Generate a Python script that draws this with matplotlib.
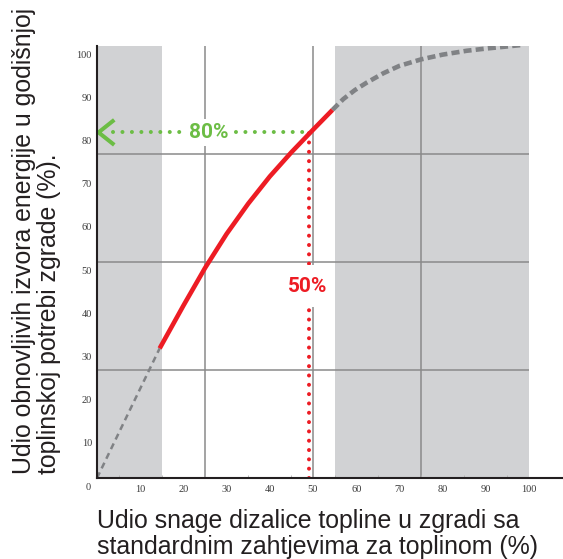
import matplotlib
matplotlib.use("Agg")
import matplotlib.pyplot as plt
from matplotlib.patches import Rectangle
from matplotlib.transforms import ScaledTranslation

# ---------------- data ----------------
x_ticks = [10, 20, 30, 40, 50, 60, 70, 80, 90, 100]
y_ticks = [10, 20, 30, 40, 50, 60, 70, 80, 90, 100]
grid_pos = [25, 50, 75]
shade_regions = [(0, 15), (55, 100)]

low_x = [0, 14.5]
low_y = [0, 30]

red_x = [14.5, 20, 25, 30, 35, 40, 45, 50, 54.5]
red_y = [30, 39.9, 48.6, 56.5, 63.5, 69.8, 75.4, 80.6, 85.2]

up_x = [54.5, 57, 59.7, 62.4, 66.3, 70, 75, 80, 85.6, 90, 98]
up_y = [85.2, 87.7, 89.8, 91.5, 93.7, 95.4, 96.9, 98.0, 98.9, 99.4, 100.2]

marker_x = 49.1
marker_y = 80
label_green = "80%"
label_red = "50%"
xlabel = "Udio snage dizalice topline u zgradi sa\nstandardnim zahtjevima za toplinom (%)"
ylabel = "Udio obnovljivih izvora energije u godišnjoj\ntoplinskoj potrebi zgrade (%)."

# ---------------- style ----------------
plt.rcParams["lines.scale_dashes"] = False
GRAY_FILL = "#d1d2d4"
GRID = "#8a8a8a"
DASH_GRAY = "#808285"
RED = "#ed1c24"
GREEN = "#6cbd45"
DARK = "#231f20"

W, H = 563, 559
fig = plt.figure(figsize=(W / 100, H / 100), dpi=100)
ax = fig.add_axes([97 / W, 81 / H, 465 / W, 432 / H])
ax.set_xlim(0, 107.64)
ax.set_ylim(0, 100)

for s in ("top", "right"):
    ax.spines[s].set_visible(False)
for s in ("left", "bottom"):
    ax.spines[s].set_linewidth(1.5)
    ax.spines[s].set_color(DARK)
    ax.spines[s].set_zorder(6)

for a, b in shade_regions:
    ax.axvspan(a, b, ymin=0, ymax=1, color=GRAY_FILL, lw=0, zorder=0)

ax.vlines(grid_pos, 0, 100, color=GRID, lw=1.1, zorder=1)
ax.hlines(grid_pos, 0, 100, color=GRID, lw=1.1, zorder=1)

# gray dashed extensions
l1, = ax.plot(low_x, low_y, color=DASH_GRAY, lw=1.8, zorder=3)
l1.set_dashes((4.5, 3.2))
l1.set_dash_capstyle("butt")
l2, = ax.plot(up_x, up_y, color=DASH_GRAY, lw=3.3, zorder=3)
l2.set_dashes((5.8, 3.0))
l2.set_dash_capstyle("butt")

# red solid curve
ax.plot(red_x, red_y, color=RED, lw=3.3, zorder=4, solid_capstyle="butt",
        solid_joinstyle="round")

# red dotted vertical
rv, = ax.plot([marker_x, marker_x], [0, marker_y], color=RED, lw=2.9, zorder=4)
rv.set_dashes((0.01, 6.7))
rv.set_dash_capstyle("round")

# green dotted horizontal
gh, = ax.plot([3.6, marker_x], [marker_y, marker_y], color=GREEN, lw=2.9, zorder=5)
gh.set_dashes((0.01, 6.8))
gh.set_dash_capstyle("round")
# chevron arrow head
ax.plot([4.0, 0.35, 4.0], [82.9, marker_y, 77.1], color=GREEN, lw=2.9, zorder=5,
        solid_joinstyle="miter", solid_capstyle="butt")

lab_font = ["Liberation Sans Narrow", "Roboto", "DejaVu Sans"]
ax.text(25.8, marker_y, label_green, color=GREEN, fontsize=15, fontweight="bold",
        family=lab_font, ha="center", va="center", zorder=7,
        bbox=dict(boxstyle="square,pad=0.2", fc="white", ec="none"))
# white knock-out panel behind the red label
ax.add_patch(Rectangle((44.2, 39.6), 9.3, 9.7, fc="white", ec="none", zorder=6))
ax.text(48.8, 44.4, label_red, color=RED, fontsize=15, fontweight="bold",
        family=lab_font, ha="center", va="center", zorder=7)

# ticks
tick_font = ["Liberation Serif", "DejaVu Serif"]
ax.set_xticks(x_ticks)
ax.set_xticklabels([str(v) for v in x_ticks])
ax.set_yticks(y_ticks)
ax.set_yticklabels([str(v) for v in y_ticks])
ax.set_xticks(range(5, 101, 5), minor=True)
ax.tick_params(axis="both", which="major", length=0, labelsize=7.5, labelcolor="#3a3a3a")
ax.tick_params(axis="x", which="major", pad=5)
ax.tick_params(axis="y", which="major", pad=3.6)
ax.tick_params(axis="x", which="minor", direction="in", length=2, width=0.6, color="#b0b0b0")
for lab in ax.get_xticklabels() + ax.get_yticklabels():
    lab.set_family(tick_font)
off = ScaledTranslation(0, -8 / 100, fig.dpi_scale_trans)
for lab in ax.get_yticklabels():
    lab.set_transform(lab.get_transform() + off)
ax.annotate("0", xy=(0, 0), xytext=(-9, -10), textcoords="offset pixels",
            ha="center", va="center", fontsize=7.5, color="#3a3a3a",
            family=tick_font, annotation_clip=False)

label_font = ["Liberation Sans", "DejaVu Sans"]
fig.text(97 / W, (H - 509) / H, xlabel, ha="left", va="top", multialignment="left",
         fontsize=17.9, color=DARK, family=label_font, linespacing=1.12)
fig.text(36.5 / W, (H - 474) / H, ylabel, ha="center", va="bottom", rotation=90,
         multialignment="left", fontsize=17.9, color=DARK, family=label_font,
         linespacing=1.1)

fig.savefig("out.png", dpi=100)
